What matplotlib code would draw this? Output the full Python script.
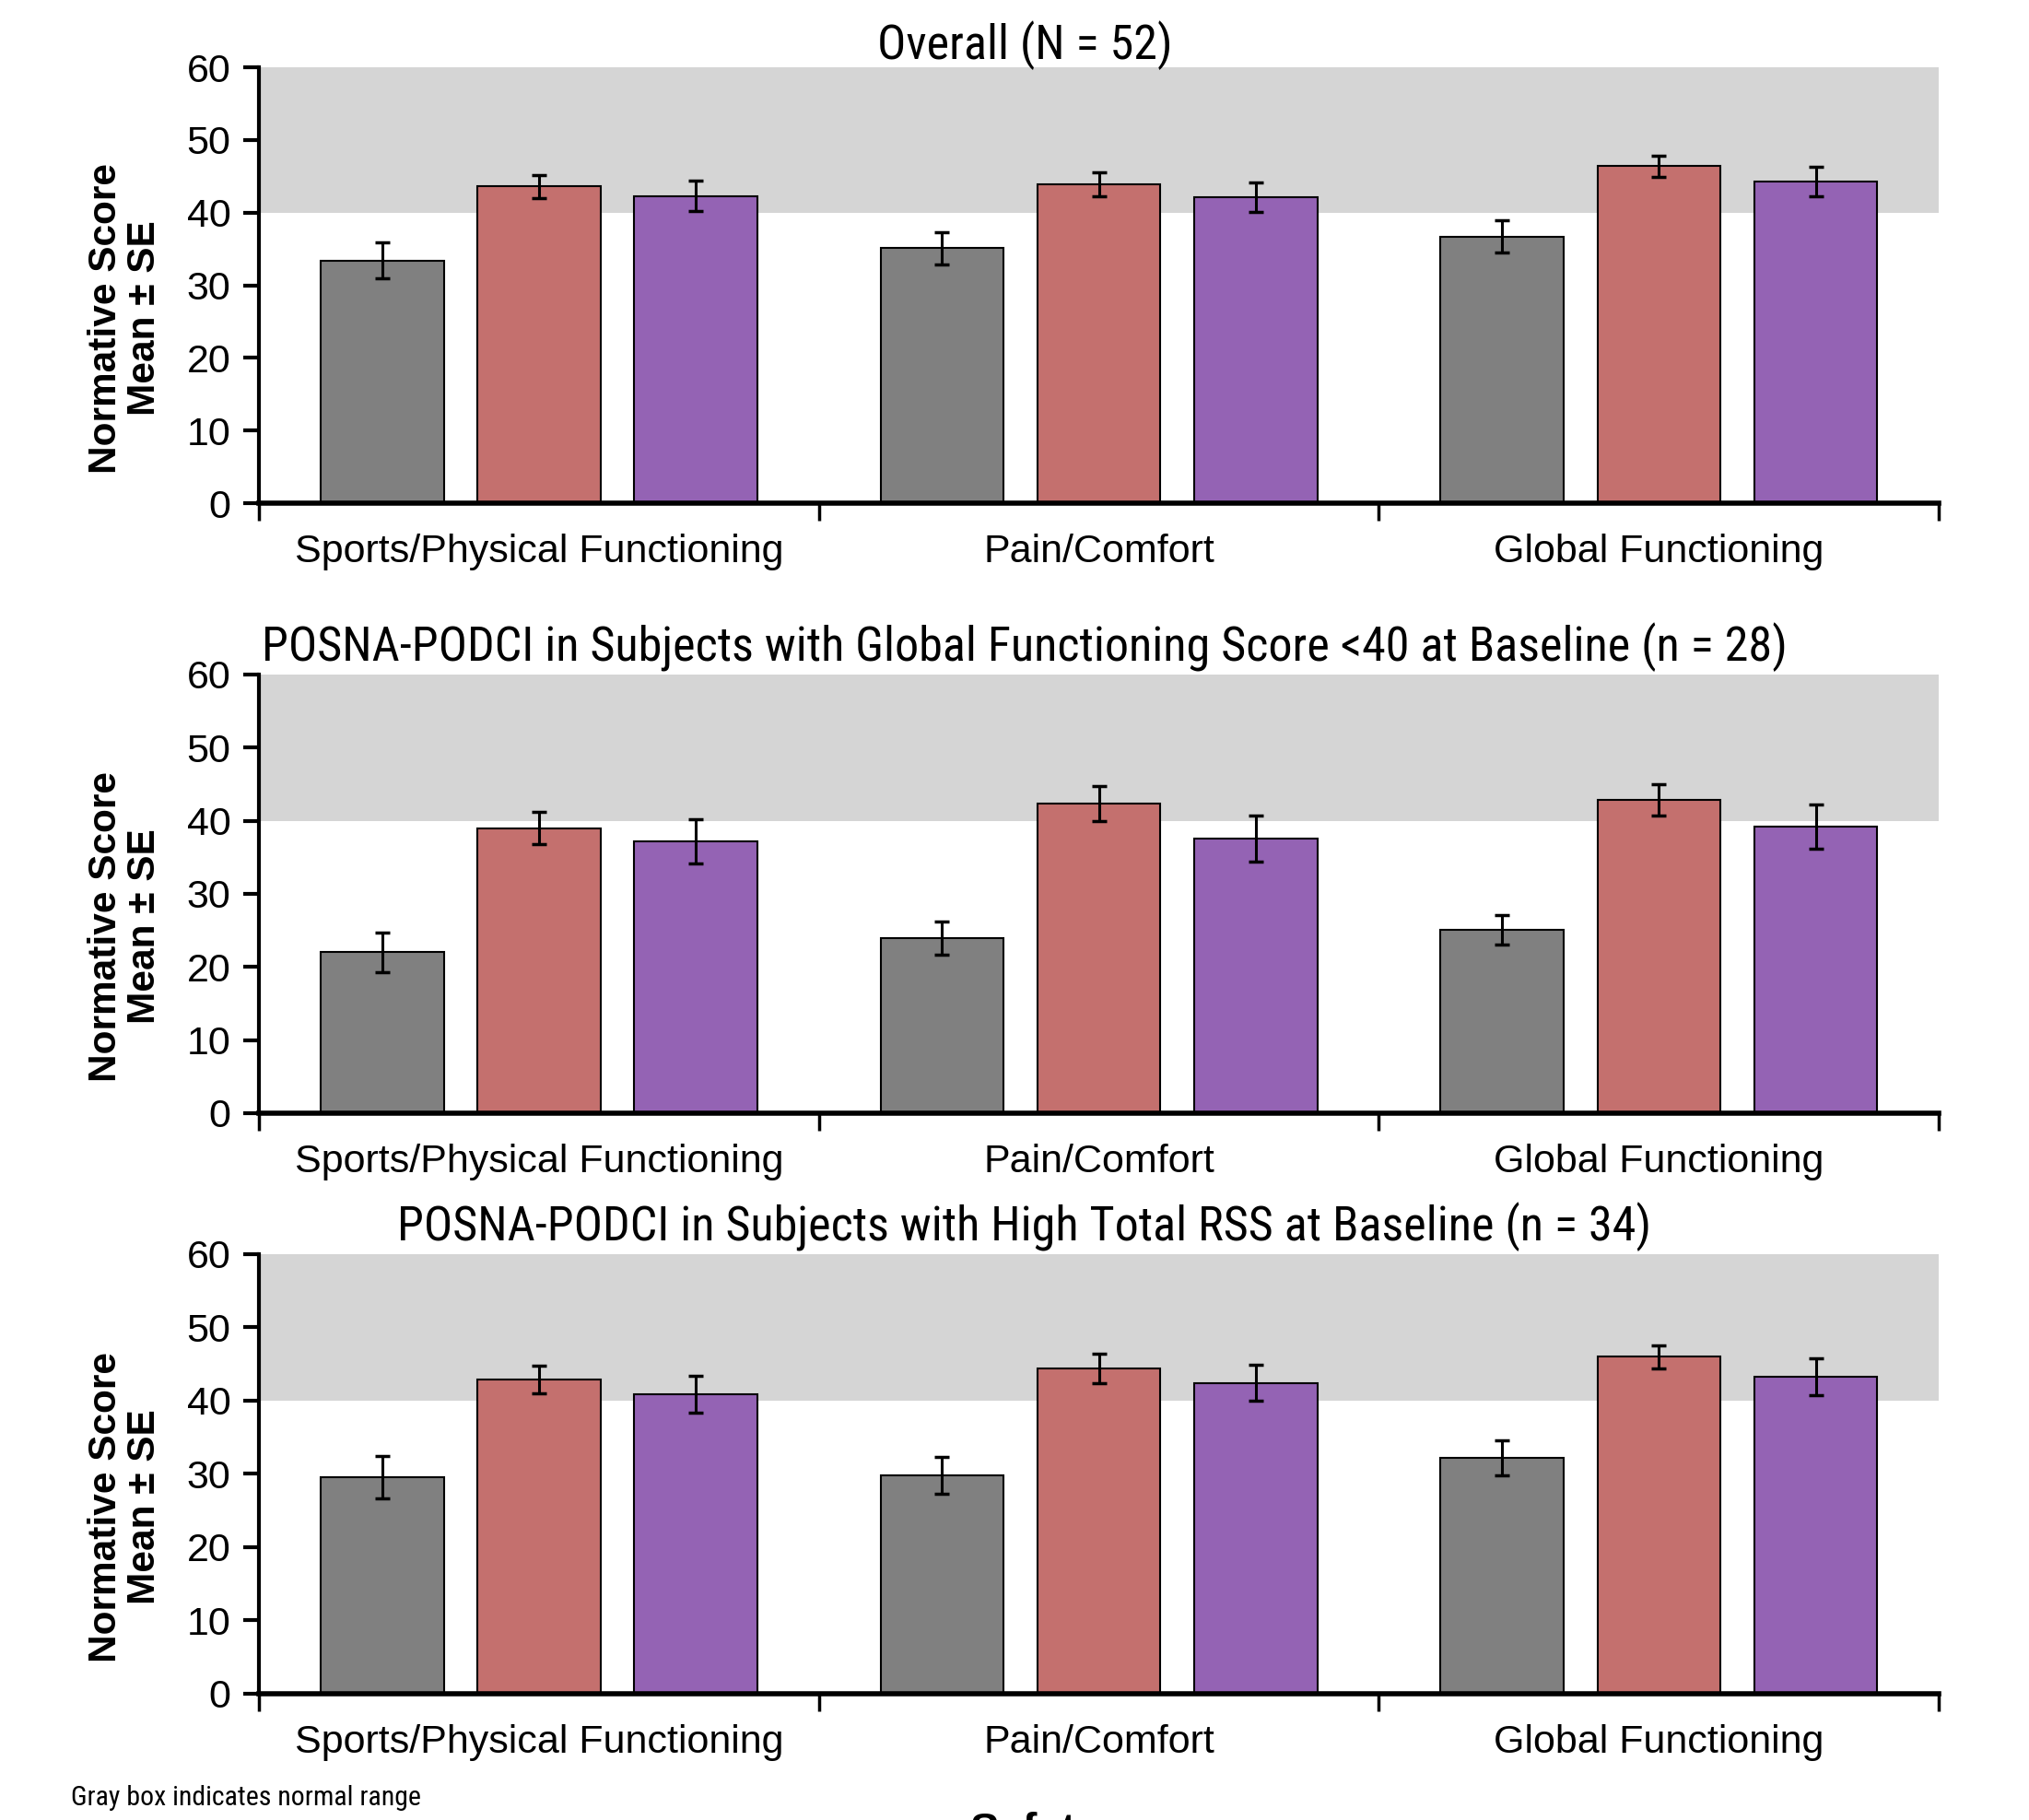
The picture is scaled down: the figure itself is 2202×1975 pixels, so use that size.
import matplotlib
matplotlib.use("Agg")
import matplotlib.pyplot as plt
from matplotlib import font_manager as fm
import numpy as np

# ---------------- data ----------------
categories = ["Sports/Physical Functioning", "Pain/Comfort", "Global Functioning"]
titles = ["Overall (N = 52)",
          "POSNA-PODCI in Subjects with Global Functioning Score <40 at Baseline (n = 28)",
          "POSNA-PODCI in Subjects with High Total RSS at Baseline (n = 34)"]
yticks = [0, 10, 20, 30, 40, 50, 60]

# panel 1: Overall
p1_gray = [33.4, 35.1, 36.7]
p1_gray_se = [2.5, 2.2, 2.2]
p1_red = [43.6, 43.9, 46.4]
p1_red_se = [1.6, 1.7, 1.45]
p1_purple = [42.3, 42.1, 44.3]
p1_purple_se = [2.1, 2.0, 2.0]

# panel 2: Global Functioning <40
p2_gray = [22.0, 23.9, 25.1]
p2_gray_se = [2.75, 2.25, 2.05]
p2_red = [39.0, 42.3, 42.9]
p2_red_se = [2.15, 2.4, 2.15]
p2_purple = [37.2, 37.6, 39.2]
p2_purple_se = [3.05, 3.15, 3.0]

# panel 3: High Total RSS
p3_gray = [29.5, 29.8, 32.2]
p3_gray_se = [2.9, 2.5, 2.4]
p3_red = [42.9, 44.4, 46.0]
p3_red_se = [1.9, 2.05, 1.6]
p3_purple = [40.9, 42.4, 43.3]
p3_purple_se = [2.5, 2.45, 2.5]

normal_low, normal_high = 40, 60

panels = [
    (p1_gray, p1_gray_se, p1_red, p1_red_se, p1_purple, p1_purple_se),
    (p2_gray, p2_gray_se, p2_red, p2_red_se, p2_purple, p2_purple_se),
    (p3_gray, p3_gray_se, p3_red, p3_red_se, p3_purple, p3_purple_se),
]

# ---------------- fonts ----------------
available = {f.name for f in fm.fontManager.ttflist}
def pick(*names):
    for n in names:
        if n in available:
            return n
    return "DejaVu Sans"

base_font = pick("Liberation Sans", "Arial", "DejaVu Sans")
narrow_font = pick("Liberation Sans Narrow", "Arial Narrow", "Roboto Condensed", base_font)
plt.rcParams["font.family"] = [base_font, "DejaVu Sans"]

colors = ["#808080", "#c4706e", "#9463b4"]
band_color = "#d5d5d5"

fig = plt.figure(figsize=(22.02, 19.75), dpi=100)

left, width = 0.1276, 0.828
bottoms = [0.7235, 0.3884, 0.0694]
heights = [0.2395, 0.241, 0.2415]
title_y = [1 - 49 / 1975, 1 - 702 / 1975, 1 - 1331 / 1975]

x = np.arange(len(categories))
offsets = [-0.28, 0.0, 0.28]
bw = 0.22

for i, (data, b, h) in enumerate(zip(panels, bottoms, heights)):
    ax = fig.add_axes([left, b, width, h])
    ax.axhspan(normal_low, normal_high, color=band_color, zorder=0, lw=0)
    vals = [data[0], data[2], data[4]]
    ses = [data[1], data[3], data[5]]
    for k in range(3):
        ax.bar(x + offsets[k], vals[k], width=bw, color=colors[k],
               edgecolor="black", linewidth=1.5, zorder=2)
        ax.errorbar(x + offsets[k], vals[k], yerr=ses[k], fmt="none",
                    ecolor="black", elinewidth=2.2, capsize=6, capthick=2.5, zorder=3)
    ax.set_xlim(-0.5, 2.5)
    ax.set_ylim(0, 60)
    ax.set_yticks(yticks)
    ax.set_yticklabels([str(t) for t in yticks], fontsize=31)
    ax.set_xticks([-0.5, 0.5, 1.5, 2.5])
    ax.set_xticklabels([])
    ax.set_xticks(x, minor=True)
    ax.set_xticklabels(categories, minor=True, fontsize=31)
    ax.tick_params(axis="x", which="minor", length=0, pad=24)
    ax.tick_params(axis="x", which="major", length=14, width=2.5, direction="out")
    ax.tick_params(axis="y", length=12, width=3, direction="out", pad=10)
    for s in ["top", "right"]:
        ax.spines[s].set_visible(False)
    ax.spines["left"].set_linewidth(3)
    ax.spines["bottom"].set_linewidth(4)
    ax.spines["left"].set_zorder(5)
    ax.spines["bottom"].set_zorder(5)
    ax.set_ylabel("Normative Score\nMean ± SE", fontsize=30.5, fontweight="bold",
                  linespacing=1.05)
    ax.yaxis.set_label_coords(-0.057, 0.425)
    fig.text(0.505, title_y[i], titles[i], ha="center", va="center",
             fontsize=37.5, family=[narrow_font, "DejaVu Sans"])

fig.text(77 / 2202, 1 - 1951 / 1975, "Gray box indicates normal range",
         ha="left", va="center", fontsize=21.5, family=[narrow_font, "DejaVu Sans"])
fig.text(1053 / 2202, 1 - 1966 / 1975, "Safety", ha="left", va="top",
         fontsize=34, fontweight="bold")

fig.savefig("out.png", dpi=100)
